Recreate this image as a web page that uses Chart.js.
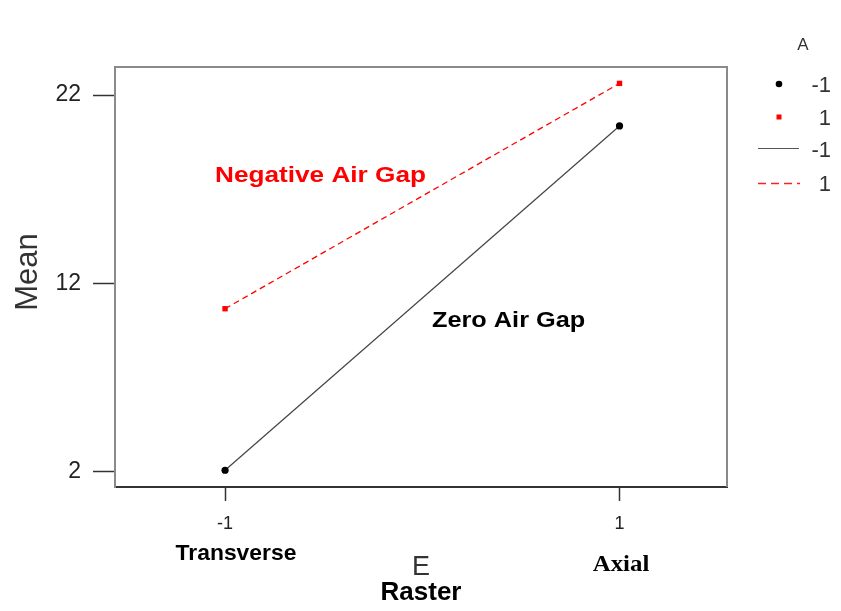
<!DOCTYPE html>
<html>
<head>
<meta charset="utf-8">
<script src="https://cdn.jsdelivr.net/npm/chart.js@4.4.0/dist/chart.umd.min.js"></script>
<style>
  html, body { margin: 0; padding: 0; background: #fff; }
  canvas { display: block; }
</style>
</head>
<body>
<canvas id="interactionPlot" width="841" height="611"></canvas>
<script>
// Interaction plot: Mean vs E (Raster), series by A (air gap)
const levelsE = [-1, 1];
const meanA_neg = [2.07, 20.36];   // A = -1 (Zero Air Gap)
const meanA_pos = [10.65, 22.62];  // A = 1 (Negative Air Gap)
const xTicks = [-1, 1];
const yTicks = [2, 12, 22];

const toPoints = (xs, ys) => xs.map((x, i) => ({ x: x, y: ys[i] }));

// teks tambahan (judul sumbu, anotasi, legenda) digambar manual
function drawText(ctx, text, x, y, font, color, align, sx) {
  ctx.save();
  ctx.font = font;
  ctx.fillStyle = color;
  ctx.textAlign = align || 'left';
  ctx.textBaseline = 'alphabetic';
  ctx.translate(x, y);
  ctx.scale(sx || 1, 1);
  ctx.fillText(text, 0, 0);
  ctx.restore();
}

const extras = {
  id: 'extras',
  beforeDraw(chart) {
    const ctx = chart.ctx;
    ctx.save();
    ctx.fillStyle = '#fff';
    ctx.fillRect(0, 0, chart.width, chart.height);
    ctx.restore();
  },
  afterDraw(chart) {
    const ctx = chart.ctx;
    const a = chart.chartArea;
    // kotak plot (atas & kanan)
    ctx.save();
    ctx.strokeStyle = '#8a8a8a';
    ctx.lineWidth = 2;
    ctx.beginPath();
    ctx.moveTo(a.left, a.top);
    ctx.lineTo(a.right, a.top);
    ctx.lineTo(a.right, a.bottom);
    ctx.stroke();
    ctx.restore();

    const sans = '"Liberation Sans", Arial, sans-serif';
    drawText(ctx, 'Negative Air Gap', 215, 182, 'bold 22px ' + sans, '#ff0000', 'left', 1.19);
    drawText(ctx, 'Zero Air Gap', 432, 327, 'bold 22px ' + sans, '#000', 'left', 1.15);
    drawText(ctx, 'Transverse', 236, 560, 'bold 22px ' + sans, '#000', 'center', 1.04);
    drawText(ctx, 'Axial', 621, 571, 'bold 23px "Liberation Serif", "Times New Roman", serif', '#000', 'center', 1.08);
    drawText(ctx, 'E', 421, 575, '27px ' + sans, '#333', 'center');
    drawText(ctx, 'Raster', 421, 600, 'bold 26px ' + sans, '#000', 'center');

    // judul sumbu Y
    ctx.save();
    ctx.translate(37, 272);
    ctx.rotate(-Math.PI / 2);
    ctx.font = '31px ' + sans;
    ctx.fillStyle = '#333';
    ctx.textAlign = 'center';
    ctx.fillText('Mean', 0, 0);
    ctx.restore();

    // legenda
    drawText(ctx, 'A', 803, 50, '17px ' + sans, '#333', 'center');
    ctx.save();
    ctx.fillStyle = '#000';
    ctx.beginPath();
    ctx.arc(779, 84, 3.3, 0, Math.PI * 2);
    ctx.fill();
    ctx.fillStyle = '#ff0000';
    ctx.fillRect(776.5, 114.5, 5, 5);
    ctx.lineWidth = 1.2;
    ctx.strokeStyle = '#555';
    ctx.beginPath();
    ctx.moveTo(758, 148.5);
    ctx.lineTo(799, 148.5);
    ctx.stroke();
    ctx.lineWidth = 1.5;
    ctx.strokeStyle = '#ff2020';
    ctx.setLineDash([8, 5]);
    ctx.beginPath();
    ctx.moveTo(758, 183.5);
    ctx.lineTo(800, 183.5);
    ctx.stroke();
    ctx.restore();
    drawText(ctx, '-1', 831, 92, '22px ' + sans, '#333', 'right');
    drawText(ctx, '1', 831, 125, '22px ' + sans, '#333', 'right');
    drawText(ctx, '-1', 831, 157, '22px ' + sans, '#333', 'right');
    drawText(ctx, '1', 831, 191, '22px ' + sans, '#333', 'right');
  }
};

const ctx = document.getElementById('interactionPlot').getContext('2d');
const chart = new Chart(ctx, {
  type: 'line',
  data: {
    datasets: [{
      label: '-1',
      data: toPoints(levelsE, meanA_neg),
      borderColor: '#444',
      borderWidth: 1.2,
      pointStyle: 'circle',
      pointRadius: 3.6,
      pointBackgroundColor: '#000',
      pointBorderColor: '#000',
      pointBorderWidth: 0,
      tension: 0
    }, {
      label: '1',
      data: toPoints(levelsE, meanA_pos),
      borderColor: '#ff0000',
      borderWidth: 1.3,
      borderDash: [6, 4],
      pointStyle: 'rect',
      pointRadius: 3.8,
      pointBackgroundColor: '#ff0000',
      pointBorderColor: '#ff0000',
      pointBorderWidth: 0,
      tension: 0
    }]
  },
  options: {
    responsive: false,
    animation: false,
    layout: { padding: { left: 0, top: 67, right: 114, bottom: 0 } },
    plugins: { legend: { display: false }, tooltip: { enabled: false } },
    scales: {
      x: {
        type: 'linear',
        min: -1.558,
        max: 1.545,
        afterBuildTicks: (s) => { s.ticks = xTicks.map(v => ({ value: v })); },
        afterFit: (s) => { s.height = 124; },
        grid: { drawOnChartArea: false, drawTicks: true, tickLength: 14, tickColor: '#333', tickWidth: 1.5 },
        border: { display: true, color: '#333', width: 2 },
        ticks: {
          color: '#222',
          padding: 12,
          font: { family: '"Liberation Sans", Arial, sans-serif', size: 18 },
          callback: (v) => String(v)
        }
      },
      y: {
        min: 1.18,
        max: 23.49,
        afterBuildTicks: (s) => { s.ticks = yTicks.map(v => ({ value: v })); },
        afterFit: (s) => { s.width = 115; },
        grid: { drawOnChartArea: false, drawTicks: true, tickLength: 22, tickColor: '#333', tickWidth: 1.5 },
        border: { display: true, color: '#8a8a8a', width: 2 },
        ticks: {
          color: '#222',
          padding: 12,
          font: { family: '"Liberation Sans", Arial, sans-serif', size: 23 },
          callback: (v) => String(v)
        }
      }
    }
  },
  plugins: [extras]
});
</script>
</body>
</html>
